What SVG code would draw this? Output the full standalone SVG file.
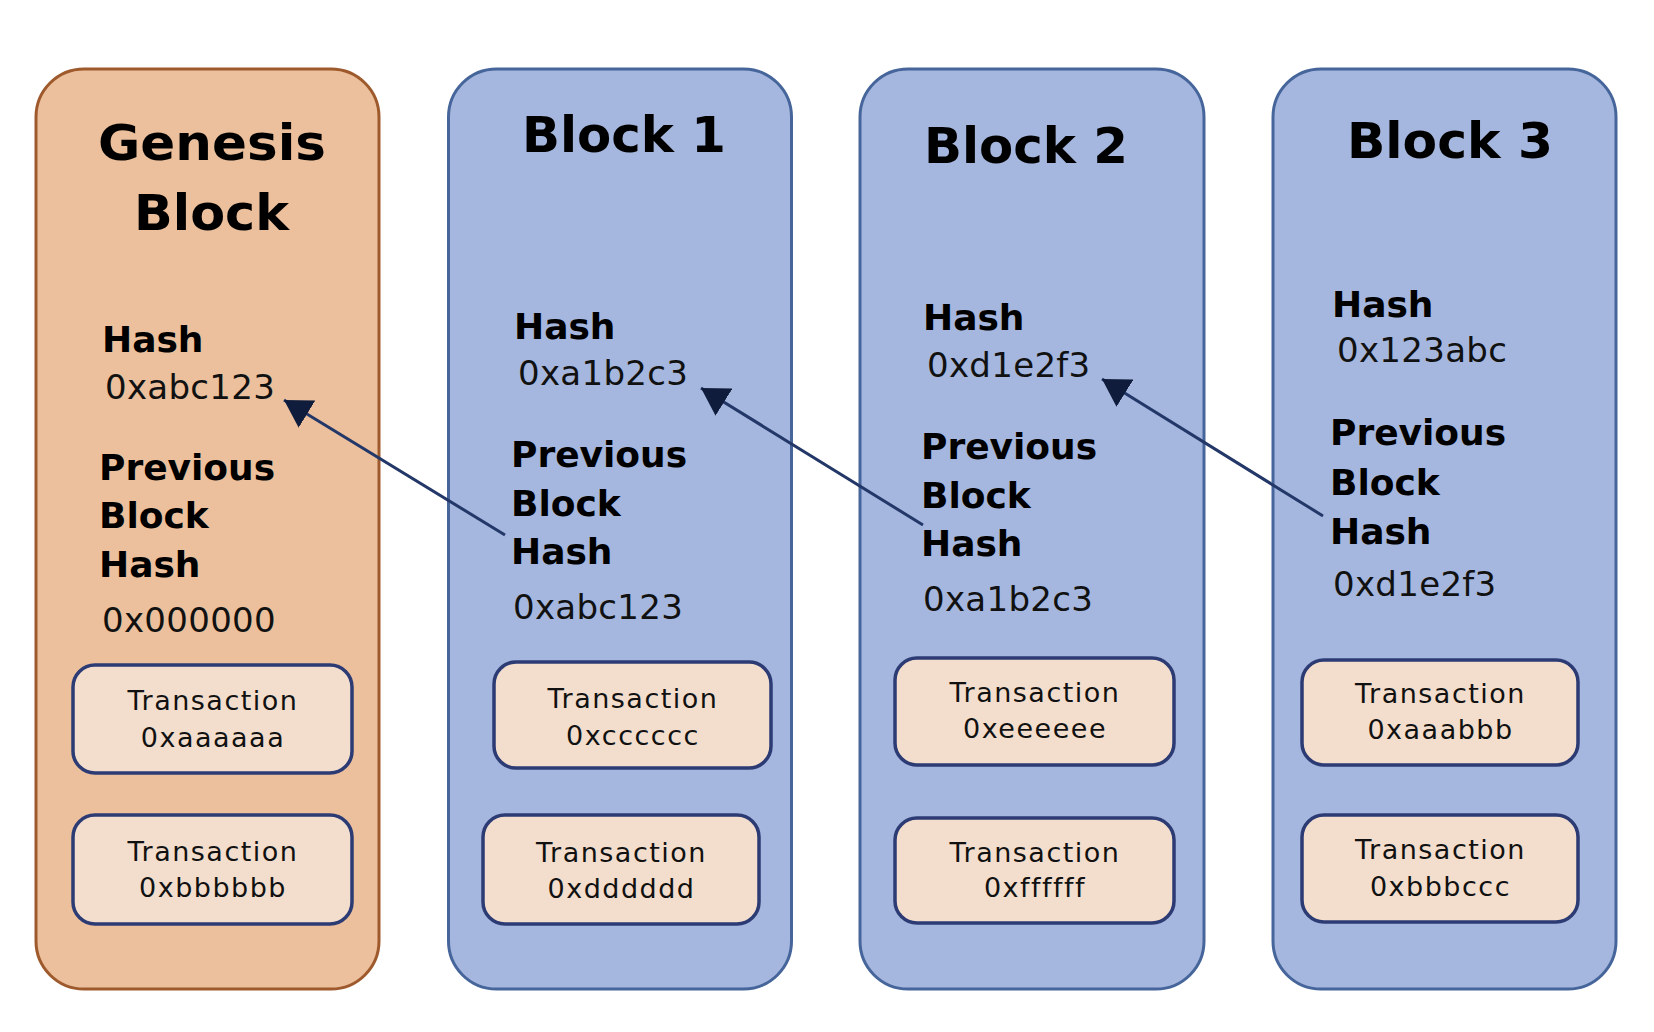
<svg xmlns="http://www.w3.org/2000/svg" width="1654" height="1032" viewBox="0 0 1654 1032">
  <style>
    .genesis { fill: #ECC09C; stroke: #9E5A2C; stroke-width: 3; }
    .block { fill: #A5B7DE; stroke: #46659A; stroke-width: 3; }
    .tx { fill: #F3DECD; stroke: #2C3B74; stroke-width: 3.5; }
    .title { font-family: "DejaVu Sans", Verdana, sans-serif; font-weight: bold; font-size: 49px; fill: #000; }
    .label { font-family: "DejaVu Sans", Verdana, sans-serif; font-weight: bold; font-size: 36px; fill: #000; }
    .value { font-family: "DejaVu Sans", Verdana, sans-serif; font-size: 34px; letter-spacing: 0.3px; fill: #111; }
    .txt { font-family: "DejaVu Sans", Verdana, sans-serif; font-size: 27px; letter-spacing: 1.5px; fill: #111; text-anchor: middle; }
    .link { stroke: #233868; stroke-width: 3; fill: none; marker-end: url(#head); }
  </style>
  <defs>
    <marker id="head" markerUnits="userSpaceOnUse" markerWidth="30" markerHeight="32" refX="27" refY="16" orient="auto" viewBox="0 0 30 32">
      <path d="M0,0 L27,16 L0,32 Z" fill="#0F1C3C"/>
    </marker>
  </defs>
  <rect width="1654" height="1032" fill="#FFFFFF"/>

  <!-- Genesis block -->
  <g id="genesis-block">
    <rect class="genesis" x="36" y="69" width="343" height="920" rx="48"/>
    <text class="title" x="98" y="160" textLength="228" lengthAdjust="spacingAndGlyphs">Genesis</text>
    <text class="title" x="134" y="230" textLength="155" lengthAdjust="spacingAndGlyphs">Block</text>
    <text class="label" x="102" y="352">Hash</text>
    <text class="value" x="105" y="399">0xabc123</text>
    <text class="label" x="99" y="480">Previous</text>
    <text class="label" x="99" y="528">Block</text>
    <text class="label" x="99" y="577">Hash</text>
    <text class="value" x="102" y="632">0x000000</text>
    <g id="genesis-tx1">
      <rect class="tx" x="73" y="665" width="279" height="108" rx="22"/>
      <text class="txt" x="213" y="710">Transaction</text>
      <text class="txt" x="213" y="747">0xaaaaaa</text>
    </g>
    <g id="genesis-tx2">
      <rect class="tx" x="73" y="815" width="279" height="109" rx="22"/>
      <text class="txt" x="213" y="861">Transaction</text>
      <text class="txt" x="213" y="897">0xbbbbbb</text>
    </g>
  </g>

  <!-- Block 1 -->
  <g id="block-1">
    <rect class="block" x="448.5" y="69" width="343" height="920" rx="48"/>
    <text class="title" x="522" y="152" textLength="204" lengthAdjust="spacingAndGlyphs">Block 1</text>
    <text class="label" x="514" y="339">Hash</text>
    <text class="value" x="518" y="385">0xa1b2c3</text>
    <text class="label" x="511" y="467">Previous</text>
    <text class="label" x="511" y="516">Block</text>
    <text class="label" x="511" y="564">Hash</text>
    <text class="value" x="513" y="619">0xabc123</text>
    <g id="block-1-tx1">
      <rect class="tx" x="494" y="662" width="277" height="106" rx="22"/>
      <text class="txt" x="633" y="708">Transaction</text>
      <text class="txt" x="633" y="745">0xcccccc</text>
    </g>
    <g id="block-1-tx2">
      <rect class="tx" x="483" y="815" width="276" height="109" rx="22"/>
      <text class="txt" x="621.5" y="862">Transaction</text>
      <text class="txt" x="621.5" y="898">0xdddddd</text>
    </g>
  </g>

  <!-- Block 2 -->
  <g id="block-2">
    <rect class="block" x="860" y="69" width="344" height="920" rx="48"/>
    <text class="title" x="924" y="163" textLength="204" lengthAdjust="spacingAndGlyphs">Block 2</text>
    <text class="label" x="923" y="330">Hash</text>
    <text class="value" x="927" y="377">0xd1e2f3</text>
    <text class="label" x="921" y="459">Previous</text>
    <text class="label" x="921" y="508">Block</text>
    <text class="label" x="921" y="556">Hash</text>
    <text class="value" x="923" y="611">0xa1b2c3</text>
    <g id="block-2-tx1">
      <rect class="tx" x="895" y="658" width="279" height="107" rx="22"/>
      <text class="txt" x="1035" y="702">Transaction</text>
      <text class="txt" x="1035" y="738">0xeeeeee</text>
    </g>
    <g id="block-2-tx2">
      <rect class="tx" x="895" y="818" width="279" height="105" rx="22"/>
      <text class="txt" x="1035" y="862">Transaction</text>
      <text class="txt" x="1035" y="897">0xffffff</text>
    </g>
  </g>

  <!-- Block 3 -->
  <g id="block-3">
    <rect class="block" x="1273" y="69" width="343" height="920" rx="48"/>
    <text class="title" x="1347" y="158" textLength="206" lengthAdjust="spacingAndGlyphs">Block 3</text>
    <text class="label" x="1332" y="317">Hash</text>
    <text class="value" x="1337" y="362">0x123abc</text>
    <text class="label" x="1330" y="445">Previous</text>
    <text class="label" x="1330" y="495">Block</text>
    <text class="label" x="1330" y="544">Hash</text>
    <text class="value" x="1333" y="596">0xd1e2f3</text>
    <g id="block-3-tx1">
      <rect class="tx" x="1302" y="660" width="276" height="105" rx="22"/>
      <text class="txt" x="1440.5" y="703">Transaction</text>
      <text class="txt" x="1440.5" y="739">0xaaabbb</text>
    </g>
    <g id="block-3-tx2">
      <rect class="tx" x="1302" y="815" width="276" height="107" rx="22"/>
      <text class="txt" x="1440.5" y="859">Transaction</text>
      <text class="txt" x="1440.5" y="896">0xbbbccc</text>
    </g>
  </g>

  <!-- Previous-hash links -->
  <g id="connectors">
    <line class="link" x1="505" y1="535" x2="284" y2="400"/>
    <line class="link" x1="923" y1="525" x2="701" y2="388"/>
    <line class="link" x1="1323" y1="516" x2="1102" y2="379"/>
  </g>
</svg>
